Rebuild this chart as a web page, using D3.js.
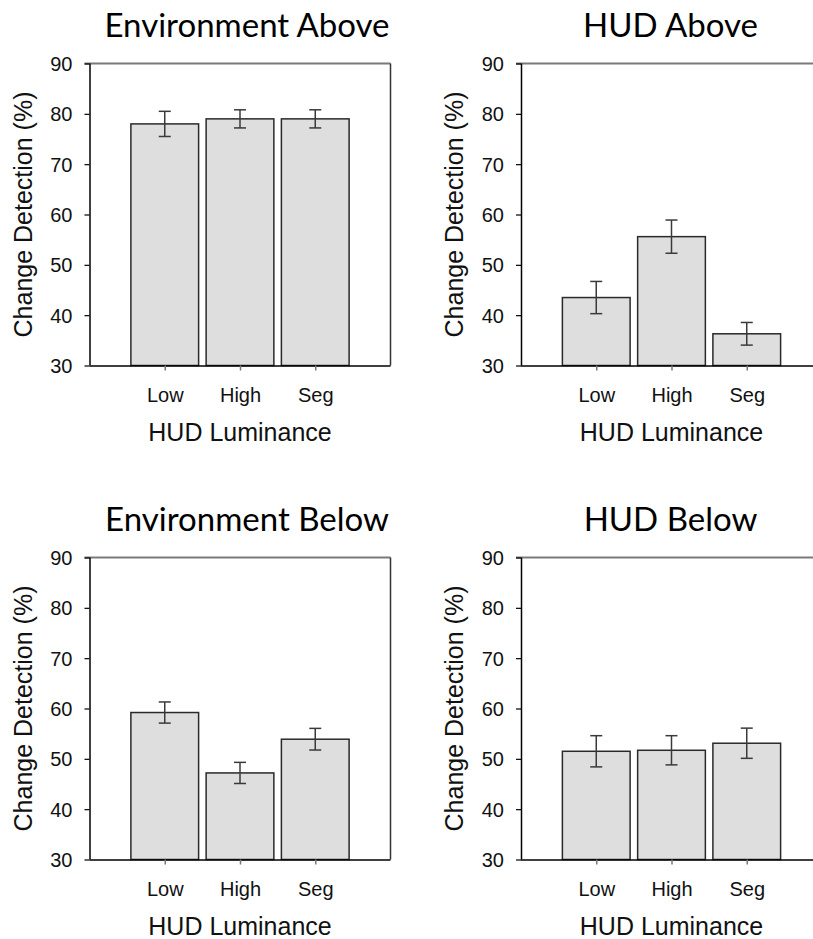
<!DOCTYPE html>
<html>
<head>
<meta charset="utf-8">
<script src="https://cdn.jsdelivr.net/npm/d3@7"></script>
<style>
    body { margin: 0; background: #fff; }
    svg { display: block; }
    .tick-label { font-family: "Liberation Sans", Arial, sans-serif; font-size: 20px; fill: #111; }
    .axis-label { font-family: "Liberation Sans", Arial, sans-serif; font-size: 25px; fill: #111; }
    .title { font-family: Lato, "Open Sans", sans-serif; font-size: 33px; fill: #000; }
</style>
</head>
<body>
<svg width="813" height="939"></svg>
<script>
const categories = ["Low", "High", "Seg"];
const yTicks = [30, 40, 50, 60, 70, 80, 90];

const titles = ["Environment Above", "HUD Above", "Environment Below", "HUD Below"];

const envAbove = [78.0, 79.0, 79.0];
const envAboveErr = [2.5, 1.8, 1.8];

const hudAbove = [43.5, 55.6, 36.3];
const hudAboveErr = [3.2, 3.3, 2.25];

const envBelow = [59.2, 47.2, 53.9];
const envBelowErr = [2.1, 2.1, 2.15];

const hudBelow = [51.5, 51.7, 53.1];
const hudBelowErr = [3.1, 2.9, 3.0];

const svg = d3.select("svg");
const plotW = 301, plotH = 302;

// panel origins (top-left corner of plot frame) and title nudge
const panels = [
    { x: 89.5, y: 63.5, dx: 7, values: envAbove, errors: envAboveErr },
    { x: 521, y: 63.5, dx: -1, values: hudAbove, errors: hudAboveErr },
    { x: 89.5, y: 557.5, dx: 7, values: envBelow, errors: envBelowErr },
    { x: 521, y: 557.5, dx: -1, values: hudBelow, errors: hudBelowErr }
];

panels.forEach((p, i) => drawPanel(p, titles[i]));

function drawPanel(p, title) {
    const g = svg.append("g").attr("transform", `translate(${p.x},${p.y})`);

    const x = d3.scalePoint().domain(categories).range([0, plotW]).padding(1);
    const y = d3.scaleLinear().domain([30, 90]).range([plotH, 0]);
    const barW = x.step() * 0.9;

    // frame: top and right
    g.append("line")
        .attr("x1", -5).attr("x2", plotW)
        .attr("y1", 0).attr("y2", 0)
        .attr("stroke", "#7a7a7a").attr("stroke-width", 2);
    g.append("line")
        .attr("x1", plotW).attr("x2", plotW)
        .attr("y1", 0).attr("y2", plotH)
        .attr("stroke", "#333").attr("stroke-width", 1.5);

    // bars
    g.selectAll("rect.bar")
        .data(categories)
        .enter().append("rect")
        .attr("class", "bar")
        .attr("x", d => x(d) - barW / 2)
        .attr("width", barW)
        .attr("y", (d, i) => y(p.values[i]))
        .attr("height", (d, i) => y(30) - y(p.values[i]))
        .attr("fill", "#dedede")
        .attr("stroke", "#2a2a2a")
        .attr("stroke-width", 1.5);

    // error bars
    const eb = g.selectAll("g.err")
        .data(categories)
        .enter().append("g")
        .attr("class", "err")
        .attr("stroke", "#3a3a3a")
        .attr("stroke-width", 1.5);
    eb.append("line")
        .attr("x1", d => x(d)).attr("x2", d => x(d))
        .attr("y1", (d, i) => y(p.values[i] + p.errors[i]))
        .attr("y2", (d, i) => y(p.values[i] - p.errors[i]));
    eb.append("line")
        .attr("x1", d => x(d) - 6).attr("x2", d => x(d) + 6)
        .attr("y1", (d, i) => y(p.values[i] + p.errors[i]))
        .attr("y2", (d, i) => y(p.values[i] + p.errors[i]));
    eb.append("line")
        .attr("x1", d => x(d) - 6).attr("x2", d => x(d) + 6)
        .attr("y1", (d, i) => y(p.values[i] - p.errors[i]))
        .attr("y2", (d, i) => y(p.values[i] - p.errors[i]));

    // y axis
    const yAxis = g.append("g")
        .call(d3.axisLeft(y).tickValues(yTicks).tickSize(5).tickPadding(12));
    yAxis.select(".domain").attr("stroke", "#000").attr("stroke-width", 1.5)
        .attr("d", `M0.5,0V${plotH}`);
    yAxis.selectAll(".tick line").attr("stroke", "#000").attr("stroke-width", 1.2);
    yAxis.selectAll(".tick text")
        .attr("class", "tick-label")
        .attr("font-family", null).attr("font-size", null).attr("fill", null)
        .attr("dy", "0.35em");

    // x axis
    const xAxis = g.append("g")
        .attr("transform", `translate(0,${plotH})`)
        .call(d3.axisBottom(x).tickSize(5).tickPadding(17));
    xAxis.select(".domain").attr("stroke", "#000").attr("stroke-width", 1.5)
        .attr("d", `M0,0.5H${plotW}`);
    xAxis.selectAll(".tick line").attr("stroke", "#777").attr("stroke-width", 1.5);
    xAxis.selectAll(".tick text")
        .attr("class", "tick-label")
        .attr("font-family", null).attr("font-size", null).attr("fill", null);

    // axis titles
    g.append("text")
        .attr("class", "axis-label")
        .attr("x", plotW / 2)
        .attr("y", plotH + 75)
        .attr("text-anchor", "middle")
        .text("HUD Luminance");

    g.append("text")
        .attr("class", "axis-label")
        .attr("transform", `translate(-58,${plotH / 2}) rotate(-90)`)
        .attr("text-anchor", "middle")
        .text("Change Detection (%)");

    // panel title
    g.append("text")
        .attr("class", "title")
        .attr("x", plotW / 2 + p.dx)
        .attr("y", -27)
        .attr("text-anchor", "middle")
        .text(title);
}
</script>
</body>
</html>
